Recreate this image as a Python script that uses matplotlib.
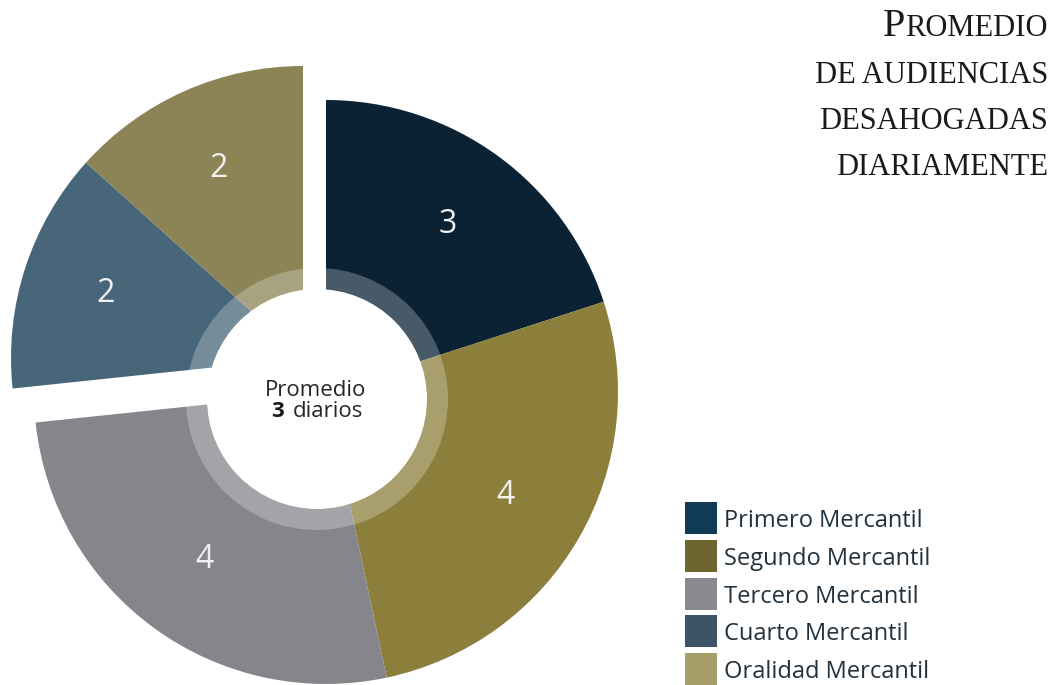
import matplotlib.pyplot as plt
from matplotlib.patches import Wedge, Circle, Rectangle

# data
juzgados = ['Primero Mercantil', 'Segundo Mercantil', 'Tercero Mercantil',
            'Cuarto Mercantil', 'Oralidad Mercantil']
audiencias = [3, 4, 4, 2, 2]
pie_colors = ['#0b2235', '#8b7f3b', '#86858b', '#476679', '#8c8456']
legend_colors = ['#103a56', '#6e6530', '#8a898e', '#3e5466', '#a69e68']
title_lines = ['DE AUDIENCIAS', 'DESAHOGADAS', 'DIARIAMENTE']

W, H = 1057, 685
fig = plt.figure(figsize=(W / 100, H / 100), dpi=100)
ax = fig.add_axes([0, 0, 1, 1])

# pie in pixel-like data units (y up)
center = (326, H - 392)
radius = 292
total = sum(audiencias)
wedges, _, autotexts = ax.pie(
    audiencias, colors=pie_colors, startangle=90, counterclock=False,
    radius=radius, center=center,
    autopct=lambda p: '%d' % round(p * total / 100), pctdistance=0.71,
    textprops=dict(color='#f0f0f0', fontsize=23, family='Open Sans'),
    wedgeprops=dict(linewidth=0))

# cuarto and oralidad pulled out together
shift = (-23, 34)
for i in (3, 4):
    wedges[i].set_center((center[0] + shift[0], center[1] + shift[1]))
    x, y = autotexts[i].get_position()
    autotexts[i].set_position((x + shift[0], y + shift[1]))
for t in autotexts:
    t.set_zorder(5)

# light ring and white hole
hole = (317, H - 399)
ax.add_patch(Wedge(hole, 131, 0, 360, width=21, facecolor='white', alpha=0.25,
                   linewidth=0, zorder=3))
ax.add_patch(Circle(hole, 110, facecolor='white', linewidth=0, zorder=4))

ax.text(316, H - 396, 'Promedio', ha='center', va='baseline', fontsize=16,
        color='#262626', family='Open Sans', zorder=6)
ax.text(271, H - 417, '3', ha='left', va='baseline', fontsize=16,
        color='#1a1a1a', family='Open Sans', fontweight='bold', zorder=6)
ax.text(293, H - 417, 'diarios', ha='left', va='baseline', fontsize=16,
        color='#262626', family='Open Sans', zorder=6)

# legend
for i, (name, col) in enumerate(zip(juzgados, legend_colors)):
    top = 502 + i * 37.8
    ax.add_patch(Rectangle((685, H - top - 32), 32, 32, facecolor=col, linewidth=0))
    ax.text(724, H - top - 25, name, ha='left', va='baseline', fontsize=17,
            color='#22313c', family='Open Sans')

# title in small caps
t1 = ax.text(1048, H - 36, 'ROMEDIO', ha='right', va='baseline', fontsize=22,
             family='Liberation Serif', color='#1a1a1a')
for i, line in enumerate(title_lines):
    ax.text(1048, H - (83 + i * 46), line, ha='right', va='baseline', fontsize=22,
            family='Liberation Serif', color='#1a1a1a')

ax.set_xlim(0, W)
ax.set_ylim(0, H)
ax.axis('off')

fig.canvas.draw()
bb = t1.get_window_extent()
x0 = ax.transData.inverted().transform((bb.x0, 0))[0]
ax.text(x0, H - 36, 'P', ha='right', va='baseline', fontsize=29,
        family='Liberation Serif', color='#1a1a1a')

fig.savefig('out.png', dpi=100, facecolor='white')
